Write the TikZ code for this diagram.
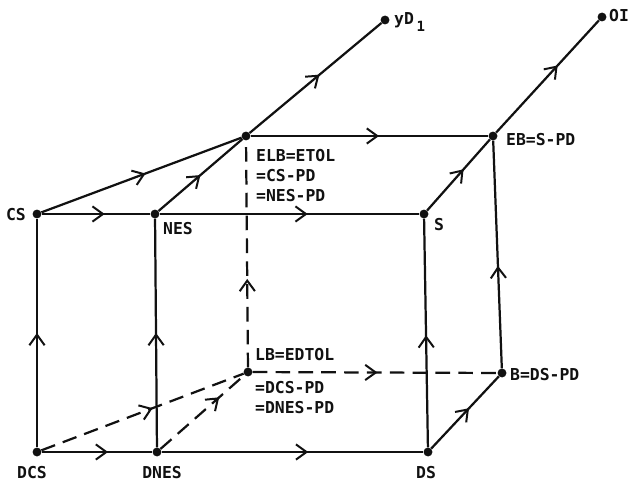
\documentclass[tikz,border=0pt]{standalone}
\usepackage{fontspec}
\setmonofont{DejaVu Sans Mono}
\usetikzlibrary{arrows.meta,decorations.markings,positioning}
\definecolor{dgInk}{HTML}{111111}
\tikzset{
  every node/.style={font=\ttfamily\bfseries\fontsize{14}{17}\selectfont,
    text=dgInk},
  vertex/.style={circle, fill=dgInk, inner sep=0pt, minimum size=7.6pt},
  tag/.style={inner sep=0pt, align=left},
  openTip/.tip={Straight Barb[length=9pt,width=13pt,line width=1.7pt]},
  solidLink/.style={draw=dgInk, line width=1.9pt},
  dashLink/.style={solidLink, dash pattern=on 12.5pt off 7pt},
  midTip/.style={postaction={decorate}, decoration={markings,
    mark=at position #1 with {\arrow{openTip}}}},
  midTip/.default=0.5,
}

\begin{document}
\begin{tikzpicture}[x=0.03cm,y=-0.03cm]
  \useasboundingbox (0,0) rectangle (628,484);

  % Upper face of the box.
  \node[vertex] (cs) at (37,214) {};
  \node[vertex] (nes) at (155,214) {};
  \node[vertex] (s) at (424,214) {};
  \node[vertex] (elb) at (246,136) {};
  \node[vertex] (eb) at (493,136) {};
  \node[vertex] (yd) at (385,20) {};
  \node[vertex] (oi) at (602,17) {};

  % Lower face of the box.
  \node[vertex] (dcs) at (37,452) {};
  \node[vertex] (dnes) at (157,452) {};
  \node[vertex] (ds) at (428,452) {};
  \node[vertex] (lb) at (248,372) {};
  \node[vertex] (b) at (502,373) {};

  % Labels.
  \node[tag, anchor=east] (csLbl) at (26,215) {CS};
  \node[tag, anchor=west] (nesLbl) at (163,229) {NES};
  \node[tag, anchor=west] (sLbl) at (434,225) {S};
  \node[tag, anchor=north west] (elbLbl) at (256,149)
    {ELB=ETOL\\=CS-PD\\=NES-PD};
  \node[tag, anchor=west] (ebLbl) at (506,140) {EB=S-PD};
  \node[tag, anchor=base west] (ydLbl) at (394,25)
    {yD\,\raisebox{-0.75ex}{\fontsize{12}{12}\selectfont 1}};
  \node[tag, anchor=west] (oiLbl) at (609,16) {OI};
  \node[tag, anchor=west] (lbLbl) at (255,355) {LB=EDTOL};
  \node[tag, anchor=north west] (lbEq) at (255,381)
    {=DCS-PD\\=DNES-PD};
  \node[tag, anchor=west] (bLbl) at (510,375) {B=DS-PD};
  \node[tag, anchor=north] (dcsLbl) at (32,466) {DCS};
  \node[tag, anchor=north] (dnesLbl) at (162,466) {DNES};
  \node[tag, anchor=north] (dsLbl) at (426,466) {DS};

  % Solid transitions.
  \draw[solidLink, midTip=0.58] (cs) -- (nes);
  \draw[solidLink, midTip=0.52] (cs) -- (elb);
  \draw[solidLink, midTip=0.5] (nes) -- (elb);
  \draw[solidLink, midTip=0.57] (nes) -- (s);
  \draw[solidLink, midTip=0.54] (elb) -- (eb);
  \draw[solidLink, midTip=0.53] (elb) -- (yd);
  \draw[solidLink, midTip=0.6] (eb) -- (oi);
  \draw[solidLink, midTip=0.58] (s) -- (eb);
  \draw[solidLink, midTip=0.5] (dcs) -- (cs);
  \draw[solidLink, midTip=0.5] (dnes) -- (nes);
  \draw[solidLink, midTip=0.49] (ds) -- (s);
  \draw[solidLink, midTip=0.45] (b) -- (eb);
  \draw[solidLink, midTip=0.6] (dcs) -- (dnes);
  \draw[solidLink, midTip=0.56] (dnes) -- (ds);
  \draw[solidLink, midTip=0.56] (ds) -- (b);

  % Dashed transitions.
  \draw[dashLink, midTip=0.55] (dcs) -- (lb);
  \draw[dashLink, midTip=0.7] (dnes) -- (lb);
  \draw[dashLink, midTip=0.39] (lb) -- (elb);
  \draw[dashLink, midTip=0.51] (lb) -- (b);
\end{tikzpicture}
\end{document}
